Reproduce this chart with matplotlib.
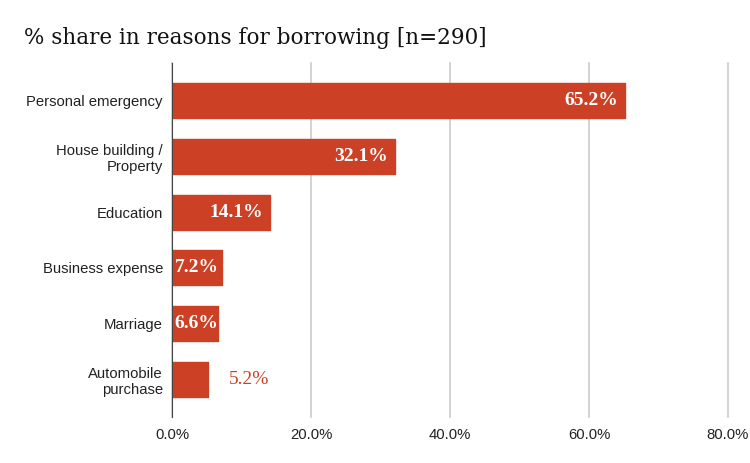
import matplotlib
matplotlib.use("Agg")
import matplotlib.pyplot as plt
from matplotlib.ticker import FuncFormatter

categories = ["Personal emergency", "House building /\nProperty", "Education",
              "Business expense", "Marriage", "Automobile\npurchase"]
values = [65.2, 32.1, 14.1, 7.2, 6.6, 5.2]
xticks = [0, 20, 40, 60, 80]

bar_color = "#cc4125"

fig = plt.figure(figsize=(7.5, 4.63), dpi=100)
ax = fig.add_axes([172/750, 1-417/463, 556/750, (417-63)/463])

ypos = list(range(len(categories)))
ax.barh(ypos, values, height=0.63, color=bar_color, edgecolor=bar_color,
        linewidth=1.0, joinstyle="round", zorder=3)
ax.set_ylim(len(categories) - 1 + 0.68, -0.68)
ax.set_xlim(0, 80)
ax.set_yticks(ypos)
ax.set_yticklabels(categories, fontsize=10.7, fontfamily="Liberation Sans",
                   color="#222222")
ax.set_xticks(xticks)
ax.xaxis.set_major_formatter(FuncFormatter(lambda v, p: f"{v:.1f}%"))
for lab in ax.get_xticklabels():
    lab.set_fontfamily("Liberation Sans")
    lab.set_fontsize(10.7)
    lab.set_color("#222222")
ax.tick_params(axis="both", length=0)
ax.tick_params(axis="y", pad=6.5)
ax.tick_params(axis="x", pad=8)
ax.grid(axis="x", color="#cccccc", linewidth=1.2, zorder=0)
for gl in ax.get_xgridlines():
    gl.set_clip_on(False)
for s in ["top", "right", "bottom"]:
    ax.spines[s].set_visible(False)
ax.spines["left"].set_color("#444444")
ax.spines["left"].set_zorder(4)

for y, v in zip(ypos, values):
    label = f"{v:.1f}%"
    if v >= 10:
        ax.annotate(label, xy=(v, y), xytext=(-5, 0), textcoords="offset points",
                    ha="right", va="center", color="white", fontsize=14,
                    fontweight="bold", fontfamily="Liberation Serif", zorder=5)
    elif v >= 6:
        ax.annotate(label, xy=(0, y), xytext=(2, 0), textcoords="offset points",
                    ha="left", va="center", color="white", fontsize=14,
                    fontweight="bold", fontfamily="Liberation Serif", zorder=5)
    else:
        ax.annotate(label, xy=(v, y), xytext=(15, 0), textcoords="offset points",
                    ha="left", va="center", color=bar_color, fontsize=14,
                    fontfamily="Liberation Serif", zorder=5)

fig.text(24/750, 1-38/463, "% share in reasons for borrowing [n=290]",
         fontsize=15.5, fontfamily="DejaVu Serif", color="#111111",
         ha="left", va="center")

fig.savefig("out.png", dpi=100, facecolor="white")
